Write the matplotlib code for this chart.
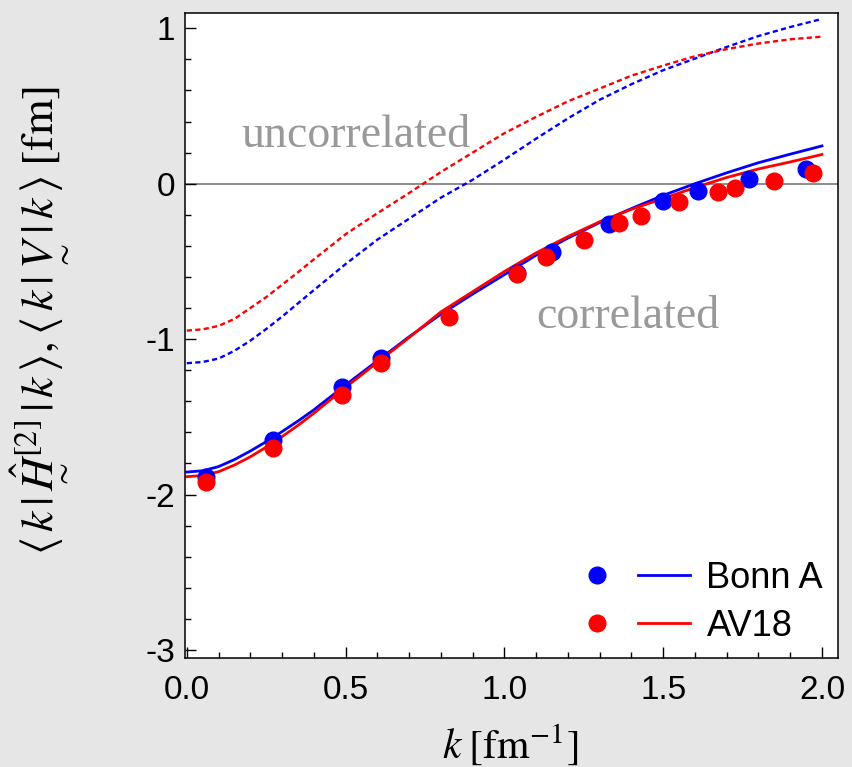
import matplotlib
matplotlib.use("Agg")
import matplotlib.pyplot as plt
from matplotlib.legend_handler import HandlerTuple
from matplotlib.ticker import MultipleLocator, FormatStrFormatter

plt.rcParams['font.family'] = ['Liberation Sans', 'DejaVu Sans']
plt.rcParams['mathtext.fontset'] = 'stix'
plt.rcParams['axes.unicode_minus'] = False

# points
k_bonn = [0.06, 0.27, 0.49, 0.61, 1.04, 1.15, 1.33, 1.50, 1.61, 1.77, 1.95]
v_bonn = [-1.89, -1.65, -1.31, -1.12, -0.575, -0.44, -0.26, -0.11, -0.045, 0.03, 0.097]

k_av18 = [0.06, 0.27, 0.49, 0.61, 0.825, 1.04, 1.13, 1.25, 1.36, 1.43, 1.55,
          1.672, 1.726, 1.849, 1.972]
v_av18 = [-1.92, -1.70, -1.36, -1.155, -0.86, -0.58, -0.47, -0.36, -0.25, -0.21,
          -0.116, -0.052, -0.026, 0.019, 0.071]

# curves, read at these k values
k_grid = [0.0, 0.05, 0.1, 0.15, 0.2, 0.25, 0.3, 0.35, 0.4, 0.5, 0.6, 0.7, 0.8, 0.9, 1.0,
          1.1, 1.2, 1.3, 1.4, 1.5, 1.6, 1.7, 1.8, 1.9, 2.0]
corr_bonn = [-1.855, -1.847, -1.82, -1.775, -1.72, -1.66, -1.595, -1.527, -1.455,
             -1.295, -1.14, -0.985, -0.84, -0.71, -0.585,
             -0.46, -0.35, -0.25, -0.16, -0.075, 0.0, 0.07, 0.135, 0.19, 0.243]
corr_av18 = [-1.885, -1.877, -1.853, -1.81, -1.757, -1.695, -1.627, -1.555, -1.477,
             -1.31, -1.15, -0.99, -0.825, -0.695, -0.565,
             -0.445, -0.34, -0.245, -0.165, -0.095, -0.025, 0.04, 0.095, 0.14, 0.188]
unc_bonn = [-1.155, -1.147, -1.125, -1.075, -1.01, -0.935, -0.855, -0.77, -0.685,
            -0.517, -0.36, -0.225, -0.09, 0.025, 0.155,
            0.29, 0.42, 0.54, 0.64, 0.73, 0.805, 0.88, 0.95, 1.008, 1.06]
unc_av18 = [-0.945, -0.937, -0.915, -0.87, -0.80, -0.73, -0.65, -0.57, -0.487,
            -0.325, -0.19, -0.06, 0.075, 0.20, 0.325,
            0.43, 0.53, 0.612, 0.695, 0.76, 0.82, 0.866, 0.902, 0.929, 0.946]

fig = plt.figure(figsize=(8.52, 7.67), dpi=100)
fig.patch.set_facecolor('#e6e6e6')
ax = fig.add_axes([0.217, 0.142, 0.766, 0.841])
ax.set_facecolor('white')

ax.axhline(0, color='#6e6e6e', lw=1.1, zorder=1)

dots = (0, (2.2, 1.4))
ax.plot(k_grid, unc_bonn, color='blue', lw=1.7, ls=dots)
ax.plot(k_grid, unc_av18, color='red', lw=1.7, ls=dots)
lb, = ax.plot(k_grid, corr_bonn, color='blue', lw=2.0)
lr, = ax.plot(k_grid, corr_av18, color='red', lw=2.0)
pb, = ax.plot(k_bonn, v_bonn, 'o', color='blue', ms=12, ls='none')
pr, = ax.plot(k_av18, v_av18, 'o', color='red', ms=12, ls='none')

ax.text(0.532, 0.236, 'uncorrelated', color='#999999', fontsize=33,
        family='Liberation Serif', ha='center', va='baseline')
ax.text(1.389, -0.93, 'correlated', color='#999999', fontsize=33,
        family='Liberation Serif', ha='center', va='baseline')

ax.set_xlim(-0.006, 2.049)
ax.set_ylim(-3.052, 1.098)
ax.xaxis.set_major_locator(MultipleLocator(0.5))
ax.xaxis.set_minor_locator(MultipleLocator(0.1))
ax.xaxis.set_major_formatter(FormatStrFormatter('%.1f'))
ax.yaxis.set_major_locator(MultipleLocator(1))
ax.yaxis.set_minor_locator(MultipleLocator(0.2))
ax.tick_params(which='both', direction='in', width=1, labelsize=24, color='black')
ax.tick_params(which='major', length=8)
ax.tick_params(which='minor', length=4.5)
ax.tick_params(axis='x', pad=12)
ax.tick_params(axis='y', pad=7)
for s in ax.spines.values():
    s.set_linewidth(1.1)

ax.set_xlabel(r'$k\;[\mathrm{fm}^{-1}]$', fontsize=30)
ax.xaxis.set_label_coords(0.498, -0.1)
ax.set_ylabel(r'$\langle\, k\,|\,\underset{\sim}{\hat{H}}^{[2]}\,|\,k\,\rangle,\langle\, k\,|\,\underset{\sim}{V}\,|\,k\,\rangle\;[\mathrm{fm}]$',
              fontsize=33)
ax.yaxis.set_label_coords(-0.179, 0.524)

ax.legend([(pb, lb), (pr, lr)], ['Bonn A', 'AV18'],
          handler_map={tuple: HandlerTuple(ndivide=None, pad=0.4)},
          handlelength=3.3, handletextpad=0.45, fontsize=26, frameon=False,
          loc='lower right', bbox_to_anchor=(1.0, 0.0), labelspacing=0.35,
          borderaxespad=0.1, borderpad=0.3)

fig.savefig('out.png', dpi=100, facecolor=fig.get_facecolor())
